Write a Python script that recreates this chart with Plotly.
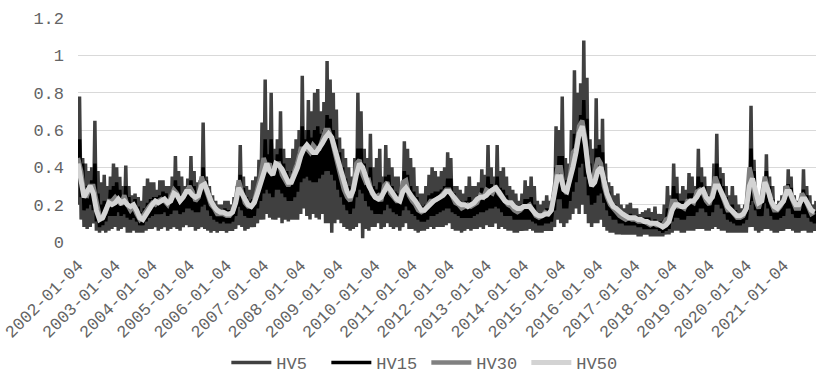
import pandas as pd
import plotly.graph_objects as go

YEAR_LABELS = [f"{y}-01-04" for y in range(2002, 2022)]
SERIES_NAMES = ["HV5", "HV15", "HV30", "HV50"]

# HV5: upper (spike) and lower envelope per month, Jan 2002 .. Nov 2021
HV5_HIGH = [
    0.78, 0.45, 0.42, 0.38, 0.40, 0.65, 0.38, 0.32, 0.36, 0.30, 0.35, 0.42,
    0.40, 0.35, 0.30, 0.41, 0.30, 0.25, 0.26, 0.24, 0.22, 0.30, 0.34, 0.32,
    0.32, 0.28, 0.33, 0.33, 0.30, 0.30, 0.35, 0.46, 0.38, 0.35, 0.30, 0.34,
    0.46, 0.38, 0.32, 0.33, 0.64, 0.35, 0.30, 0.25, 0.22, 0.20, 0.20, 0.22,
    0.22, 0.20, 0.24, 0.30, 0.52, 0.35, 0.30, 0.28, 0.33, 0.35, 0.44, 0.64,
    0.87, 0.60, 0.80, 0.50, 0.55, 0.70, 0.50, 0.45, 0.45, 0.50, 0.55, 0.60,
    0.89, 0.60, 0.76, 0.70, 0.80, 0.82, 0.70, 0.75, 0.97, 0.87, 0.80, 0.71,
    0.56, 0.50, 0.45, 0.40, 0.35, 0.45, 0.80, 0.70, 0.50, 0.45, 0.58, 0.40,
    0.45, 0.50, 0.35, 0.52, 0.45, 0.40, 0.35, 0.35, 0.30, 0.54, 0.50, 0.45,
    0.40, 0.30, 0.26, 0.26, 0.30, 0.36, 0.40, 0.38, 0.35, 0.38, 0.40, 0.48,
    0.45, 0.30, 0.30, 0.28, 0.26, 0.30, 0.35, 0.30, 0.30, 0.32, 0.39, 0.36,
    0.52, 0.40, 0.35, 0.52, 0.38, 0.40, 0.35, 0.30, 0.28, 0.26, 0.22, 0.26,
    0.33, 0.30, 0.35, 0.30, 0.22, 0.20, 0.22, 0.25, 0.22, 0.25, 0.62, 0.60,
    0.78, 0.45, 0.42, 0.60, 0.92, 0.80, 0.85, 1.08, 0.88, 0.55, 0.50, 0.77,
    0.55, 0.66, 0.42, 0.32, 0.30, 0.25, 0.26, 0.20, 0.18, 0.20, 0.21, 0.18,
    0.18, 0.15, 0.16, 0.17, 0.18, 0.16, 0.19, 0.15, 0.15, 0.20, 0.30, 0.25,
    0.42, 0.35, 0.26, 0.30, 0.28, 0.37, 0.35, 0.30, 0.50, 0.40, 0.35, 0.30,
    0.30, 0.42, 0.58, 0.40, 0.37, 0.30, 0.25, 0.30, 0.25, 0.20, 0.18, 0.20,
    0.30, 0.73, 0.44, 0.25, 0.20, 0.30, 0.47, 0.35, 0.30, 0.20, 0.22, 0.25,
    0.30, 0.39, 0.35, 0.25, 0.22, 0.22, 0.39, 0.30, 0.25, 0.20, 0.22,
]
HV5_LOW = [
    0.20, 0.12, 0.08, 0.07, 0.08, 0.10, 0.06, 0.05, 0.06, 0.05, 0.06, 0.07,
    0.08, 0.06, 0.07, 0.08, 0.05, 0.05, 0.06, 0.05, 0.05, 0.05, 0.06, 0.07,
    0.07, 0.08, 0.06, 0.07, 0.08, 0.06, 0.07, 0.08, 0.07, 0.06, 0.08, 0.09,
    0.08, 0.08, 0.06, 0.07, 0.08, 0.07, 0.06, 0.05, 0.06, 0.05, 0.06, 0.06,
    0.05, 0.06, 0.06, 0.07, 0.09, 0.08, 0.06, 0.07, 0.08, 0.08, 0.10, 0.12,
    0.12, 0.15, 0.13, 0.12, 0.12, 0.13, 0.10, 0.12, 0.11, 0.12, 0.12, 0.12,
    0.15, 0.18, 0.14, 0.12, 0.15, 0.13, 0.12, 0.15, 0.10, 0.10, 0.05, 0.10,
    0.12, 0.10, 0.08, 0.07, 0.06, 0.07, 0.08, 0.10, 0.02, 0.07, 0.06, 0.08,
    0.08, 0.10, 0.07, 0.08, 0.10, 0.08, 0.07, 0.08, 0.06, 0.08, 0.10, 0.07,
    0.07, 0.06, 0.05, 0.06, 0.06, 0.07, 0.08, 0.07, 0.08, 0.08, 0.08, 0.09,
    0.10, 0.07, 0.06, 0.06, 0.05, 0.06, 0.07, 0.06, 0.07, 0.07, 0.08, 0.07,
    0.09, 0.08, 0.08, 0.10, 0.07, 0.08, 0.07, 0.06, 0.06, 0.05, 0.05, 0.06,
    0.06, 0.06, 0.07, 0.06, 0.05, 0.05, 0.05, 0.06, 0.06, 0.06, 0.08, 0.12,
    0.10, 0.08, 0.10, 0.12, 0.15, 0.18, 0.15, 0.20, 0.15, 0.10, 0.08, 0.10,
    0.10, 0.12, 0.08, 0.06, 0.05, 0.05, 0.04, 0.04, 0.04, 0.04, 0.04, 0.04,
    0.04, 0.03, 0.03, 0.04, 0.04, 0.03, 0.03, 0.03, 0.03, 0.03, 0.04, 0.04,
    0.05, 0.06, 0.06, 0.05, 0.05, 0.06, 0.06, 0.06, 0.07, 0.07, 0.07, 0.06,
    0.06, 0.07, 0.08, 0.07, 0.06, 0.06, 0.05, 0.05, 0.05, 0.05, 0.05, 0.05,
    0.05, 0.08, 0.08, 0.06, 0.05, 0.06, 0.07, 0.07, 0.06, 0.05, 0.05, 0.06,
    0.06, 0.07, 0.07, 0.06, 0.05, 0.05, 0.06, 0.06, 0.05, 0.05, 0.06,
]
HV15_HIGH = [
    0.55, 0.42, 0.30, 0.30, 0.33, 0.42, 0.26, 0.20, 0.22, 0.22, 0.28, 0.30,
    0.32, 0.28, 0.25, 0.30, 0.24, 0.21, 0.23, 0.19, 0.16, 0.18, 0.21, 0.23,
    0.24, 0.24, 0.25, 0.27, 0.26, 0.24, 0.27, 0.33, 0.30, 0.25, 0.27, 0.30,
    0.33, 0.30, 0.26, 0.27, 0.40, 0.33, 0.27, 0.22, 0.19, 0.17, 0.17, 0.18,
    0.17, 0.17, 0.19, 0.25, 0.36, 0.29, 0.24, 0.22, 0.23, 0.26, 0.33, 0.40,
    0.55, 0.47, 0.55, 0.42, 0.47, 0.50, 0.42, 0.38, 0.35, 0.38, 0.42, 0.48,
    0.62, 0.55, 0.60, 0.56, 0.60, 0.62, 0.58, 0.60, 0.68, 0.66, 0.60, 0.55,
    0.48, 0.40, 0.34, 0.30, 0.27, 0.33, 0.50, 0.50, 0.42, 0.36, 0.40, 0.30,
    0.28, 0.32, 0.26, 0.35, 0.36, 0.30, 0.27, 0.26, 0.25, 0.38, 0.36, 0.30,
    0.27, 0.24, 0.20, 0.19, 0.20, 0.25, 0.26, 0.27, 0.27, 0.28, 0.30, 0.34,
    0.34, 0.26, 0.23, 0.22, 0.20, 0.22, 0.24, 0.22, 0.23, 0.25, 0.29, 0.27,
    0.35, 0.31, 0.29, 0.35, 0.29, 0.28, 0.25, 0.22, 0.21, 0.19, 0.18, 0.20,
    0.23, 0.23, 0.24, 0.20, 0.16, 0.15, 0.16, 0.18, 0.17, 0.19, 0.40, 0.46,
    0.46, 0.33, 0.30, 0.42, 0.58, 0.60, 0.68, 0.76, 0.66, 0.42, 0.34, 0.50,
    0.52, 0.48, 0.34, 0.27, 0.22, 0.20, 0.18, 0.16, 0.15, 0.14, 0.15, 0.14,
    0.14, 0.13, 0.13, 0.13, 0.13, 0.11, 0.12, 0.11, 0.11, 0.12, 0.18, 0.17,
    0.30, 0.26, 0.22, 0.22, 0.21, 0.26, 0.26, 0.24, 0.35, 0.32, 0.30, 0.25,
    0.24, 0.31, 0.42, 0.34, 0.30, 0.24, 0.19, 0.20, 0.17, 0.15, 0.15, 0.16,
    0.21, 0.50, 0.38, 0.24, 0.19, 0.25, 0.38, 0.30, 0.23, 0.18, 0.18, 0.21,
    0.24, 0.31, 0.29, 0.23, 0.19, 0.19, 0.28, 0.25, 0.20, 0.16, 0.17,
]
HV15_LOW = [
    0.35, 0.24, 0.17, 0.18, 0.20, 0.17, 0.11, 0.08, 0.09, 0.11, 0.14, 0.14,
    0.14, 0.16, 0.14, 0.15, 0.13, 0.12, 0.13, 0.11, 0.09, 0.09, 0.11, 0.13,
    0.14, 0.15, 0.15, 0.15, 0.16, 0.14, 0.15, 0.17, 0.17, 0.15, 0.16, 0.18,
    0.18, 0.17, 0.16, 0.16, 0.19, 0.20, 0.17, 0.14, 0.12, 0.11, 0.10, 0.11,
    0.10, 0.10, 0.11, 0.14, 0.19, 0.17, 0.14, 0.13, 0.13, 0.14, 0.18, 0.22,
    0.26, 0.28, 0.26, 0.24, 0.28, 0.28, 0.26, 0.24, 0.22, 0.22, 0.24, 0.27,
    0.32, 0.34, 0.35, 0.33, 0.32, 0.32, 0.34, 0.36, 0.38, 0.38, 0.36, 0.33,
    0.28, 0.24, 0.20, 0.17, 0.15, 0.18, 0.24, 0.28, 0.26, 0.22, 0.19, 0.17,
    0.15, 0.15, 0.15, 0.17, 0.20, 0.18, 0.16, 0.15, 0.14, 0.17, 0.19, 0.17,
    0.15, 0.14, 0.12, 0.11, 0.11, 0.12, 0.14, 0.14, 0.15, 0.16, 0.17, 0.18,
    0.18, 0.16, 0.15, 0.14, 0.13, 0.13, 0.13, 0.13, 0.14, 0.15, 0.16, 0.16,
    0.17, 0.18, 0.18, 0.19, 0.18, 0.16, 0.14, 0.14, 0.14, 0.12, 0.12, 0.12,
    0.12, 0.12, 0.12, 0.11, 0.10, 0.09, 0.09, 0.10, 0.10, 0.11, 0.17, 0.23,
    0.23, 0.18, 0.18, 0.22, 0.27, 0.32, 0.40, 0.42, 0.35, 0.25, 0.20, 0.21,
    0.25, 0.26, 0.21, 0.17, 0.14, 0.12, 0.12, 0.10, 0.10, 0.09, 0.09, 0.09,
    0.09, 0.08, 0.08, 0.07, 0.07, 0.07, 0.07, 0.07, 0.06, 0.05, 0.06, 0.07,
    0.11, 0.13, 0.13, 0.12, 0.12, 0.14, 0.14, 0.14, 0.16, 0.18, 0.18, 0.16,
    0.14, 0.16, 0.20, 0.20, 0.18, 0.15, 0.12, 0.11, 0.10, 0.09, 0.09, 0.10,
    0.12, 0.20, 0.22, 0.17, 0.14, 0.14, 0.21, 0.18, 0.14, 0.12, 0.12, 0.13,
    0.14, 0.18, 0.18, 0.15, 0.13, 0.13, 0.15, 0.15, 0.13, 0.11, 0.10,
]
HV30 = [
    0.45, 0.38, 0.26, 0.25, 0.30, 0.30, 0.22, 0.14, 0.13, 0.16, 0.22, 0.22,
    0.24, 0.22, 0.20, 0.25, 0.20, 0.17, 0.19, 0.15, 0.12, 0.14, 0.17, 0.19,
    0.21, 0.20, 0.22, 0.23, 0.22, 0.20, 0.24, 0.28, 0.26, 0.22, 0.24, 0.27,
    0.30, 0.27, 0.22, 0.24, 0.35, 0.30, 0.24, 0.20, 0.18, 0.15, 0.15, 0.15,
    0.14, 0.14, 0.16, 0.22, 0.33, 0.26, 0.21, 0.19, 0.19, 0.22, 0.28, 0.35,
    0.45, 0.40, 0.42, 0.36, 0.42, 0.42, 0.36, 0.33, 0.30, 0.33, 0.38, 0.43,
    0.50, 0.50, 0.50, 0.48, 0.52, 0.50, 0.50, 0.55, 0.60, 0.60, 0.55, 0.48,
    0.40, 0.34, 0.28, 0.24, 0.22, 0.28, 0.42, 0.44, 0.36, 0.32, 0.33, 0.26,
    0.24, 0.25, 0.22, 0.30, 0.32, 0.26, 0.24, 0.22, 0.22, 0.32, 0.33, 0.25,
    0.22, 0.20, 0.17, 0.16, 0.17, 0.20, 0.22, 0.22, 0.23, 0.24, 0.26, 0.28,
    0.28, 0.24, 0.21, 0.20, 0.18, 0.19, 0.20, 0.19, 0.20, 0.21, 0.25, 0.24,
    0.28, 0.27, 0.26, 0.30, 0.26, 0.24, 0.22, 0.20, 0.19, 0.17, 0.16, 0.17,
    0.19, 0.19, 0.20, 0.17, 0.14, 0.13, 0.14, 0.16, 0.15, 0.17, 0.30, 0.40,
    0.40, 0.28, 0.26, 0.35, 0.48, 0.50, 0.62, 0.65, 0.55, 0.38, 0.30, 0.38,
    0.45, 0.42, 0.30, 0.24, 0.20, 0.18, 0.16, 0.14, 0.13, 0.12, 0.13, 0.12,
    0.12, 0.11, 0.11, 0.11, 0.10, 0.09, 0.10, 0.09, 0.09, 0.09, 0.12, 0.13,
    0.22, 0.22, 0.19, 0.19, 0.18, 0.22, 0.22, 0.21, 0.27, 0.28, 0.26, 0.22,
    0.20, 0.26, 0.35, 0.30, 0.26, 0.21, 0.17, 0.17, 0.15, 0.13, 0.13, 0.14,
    0.18, 0.40, 0.33, 0.22, 0.18, 0.24, 0.35, 0.27, 0.21, 0.17, 0.17, 0.19,
    0.22, 0.30, 0.26, 0.21, 0.18, 0.18, 0.26, 0.23, 0.18, 0.15, 0.16,
]
HV50 = [
    0.42, 0.32, 0.24, 0.27, 0.30, 0.26, 0.17, 0.12, 0.13, 0.17, 0.21, 0.20,
    0.21, 0.23, 0.21, 0.22, 0.20, 0.19, 0.20, 0.17, 0.13, 0.12, 0.15, 0.18,
    0.20, 0.22, 0.21, 0.22, 0.23, 0.21, 0.22, 0.26, 0.25, 0.22, 0.24, 0.27,
    0.27, 0.25, 0.24, 0.25, 0.30, 0.31, 0.26, 0.22, 0.19, 0.17, 0.16, 0.16,
    0.15, 0.15, 0.16, 0.21, 0.29, 0.26, 0.22, 0.20, 0.19, 0.21, 0.26, 0.32,
    0.38, 0.42, 0.38, 0.36, 0.42, 0.41, 0.39, 0.36, 0.32, 0.32, 0.36, 0.40,
    0.46, 0.50, 0.52, 0.50, 0.48, 0.48, 0.50, 0.53, 0.56, 0.58, 0.56, 0.51,
    0.44, 0.38, 0.32, 0.27, 0.24, 0.28, 0.36, 0.42, 0.40, 0.34, 0.30, 0.27,
    0.24, 0.23, 0.24, 0.27, 0.30, 0.28, 0.25, 0.23, 0.22, 0.27, 0.29, 0.26,
    0.24, 0.22, 0.19, 0.17, 0.17, 0.19, 0.21, 0.22, 0.23, 0.24, 0.25, 0.27,
    0.27, 0.25, 0.23, 0.21, 0.20, 0.20, 0.19, 0.20, 0.21, 0.23, 0.24, 0.24,
    0.25, 0.27, 0.28, 0.29, 0.27, 0.24, 0.22, 0.21, 0.21, 0.19, 0.18, 0.18,
    0.19, 0.19, 0.19, 0.17, 0.15, 0.14, 0.14, 0.15, 0.15, 0.17, 0.26, 0.35,
    0.35, 0.28, 0.27, 0.33, 0.40, 0.48, 0.58, 0.62, 0.52, 0.38, 0.30, 0.32,
    0.38, 0.40, 0.32, 0.26, 0.22, 0.19, 0.18, 0.16, 0.15, 0.14, 0.13, 0.13,
    0.13, 0.12, 0.12, 0.11, 0.11, 0.10, 0.10, 0.10, 0.09, 0.08, 0.09, 0.11,
    0.17, 0.20, 0.20, 0.19, 0.19, 0.21, 0.22, 0.22, 0.24, 0.27, 0.28, 0.24,
    0.22, 0.24, 0.30, 0.30, 0.27, 0.23, 0.19, 0.17, 0.16, 0.14, 0.14, 0.15,
    0.18, 0.30, 0.34, 0.26, 0.21, 0.22, 0.32, 0.28, 0.22, 0.19, 0.18, 0.20,
    0.22, 0.27, 0.27, 0.23, 0.20, 0.20, 0.23, 0.23, 0.20, 0.17, 0.16,
]

n_months = len(HV50)
month_start = pd.date_range("2002-01-01", periods=n_months, freq="MS")
d_low = month_start + pd.Timedelta(days=3)    # day 4 of each month
d_high = month_start + pd.Timedelta(days=18)  # day 19 of each month

def interleave(lows, highs):
    xs, ys = [], []
    for i in range(len(lows)):
        xs += [d_low[i], d_high[i]]
        ys += [lows[i], highs[i]]
    return xs, ys

x5, y5 = interleave(HV5_LOW, HV5_HIGH)
x15, y15 = interleave(HV15_LOW, HV15_HIGH)
xm = list(d_low)

FONT = "Liberation Mono, DejaVu Sans Mono, monospace"
TXT = "#646464"

fig = go.Figure()
fig.add_trace(go.Scatter(x=x5, y=y5, mode="lines", name=SERIES_NAMES[0],
                         line=dict(color="#404040", width=3.5)))
fig.add_trace(go.Scatter(x=x15, y=y15, mode="lines", name=SERIES_NAMES[1],
                         line=dict(color="#000000", width=3.5)))
fig.add_trace(go.Scatter(x=xm, y=HV30, mode="lines", name=SERIES_NAMES[2],
                         line=dict(color="#808080", width=4.5)))
fig.add_trace(go.Scatter(x=xm, y=HV50, mode="lines", name=SERIES_NAMES[3],
                         line=dict(color="#d3d3d3", width=5)))

W, H = 823, 384
fig.update_layout(
    width=W, height=H,
    margin=dict(l=78, r=7, t=18, b=142, autoexpand=False),
    paper_bgcolor="white", plot_bgcolor="white",
    font=dict(family=FONT, size=17, color=TXT),
    showlegend=True,
    legend=dict(orientation="h", xref="paper", x=0.472, xanchor="center",
                yref="container", y=1 - 363 / H, yanchor="middle",
                font=dict(family=FONT, size=17, color=TXT), itemwidth=40,
                entrywidth=45, entrywidthmode="pixels",
                traceorder="normal"),
    xaxis=dict(type="date", range=[d_low[0], d_high[-1]], automargin=False,
               tickvals=[pd.Timestamp(s) for s in YEAR_LABELS], ticktext=YEAR_LABELS,
               tickangle=-45, showgrid=False, zeroline=False, showline=False,
               ticks="", ticklabelstandoff=9, ticklabeloverflow="allow",
               tickfont=dict(family=FONT, size=17, color=TXT)),
    yaxis=dict(range=[0, 1.2], tickvals=[0, 0.2, 0.4, 0.6, 0.8, 1.0, 1.2],
               ticktext=["0", "0.2", "0.4", "0.6", "0.8", "1", "1.2"], automargin=False,
               showgrid=True, gridcolor="#d9d9d9", gridwidth=1, zeroline=False,
               showline=False, ticks="", ticklabelstandoff=13,
               tickfont=dict(family=FONT, size=17, color=TXT)),
)

# remove the page's default body margin so the chart sits at the window's corner
fig.write_html("out.html", config={"displayModeBar": False},
               post_script="document.body.style.margin='0';")
